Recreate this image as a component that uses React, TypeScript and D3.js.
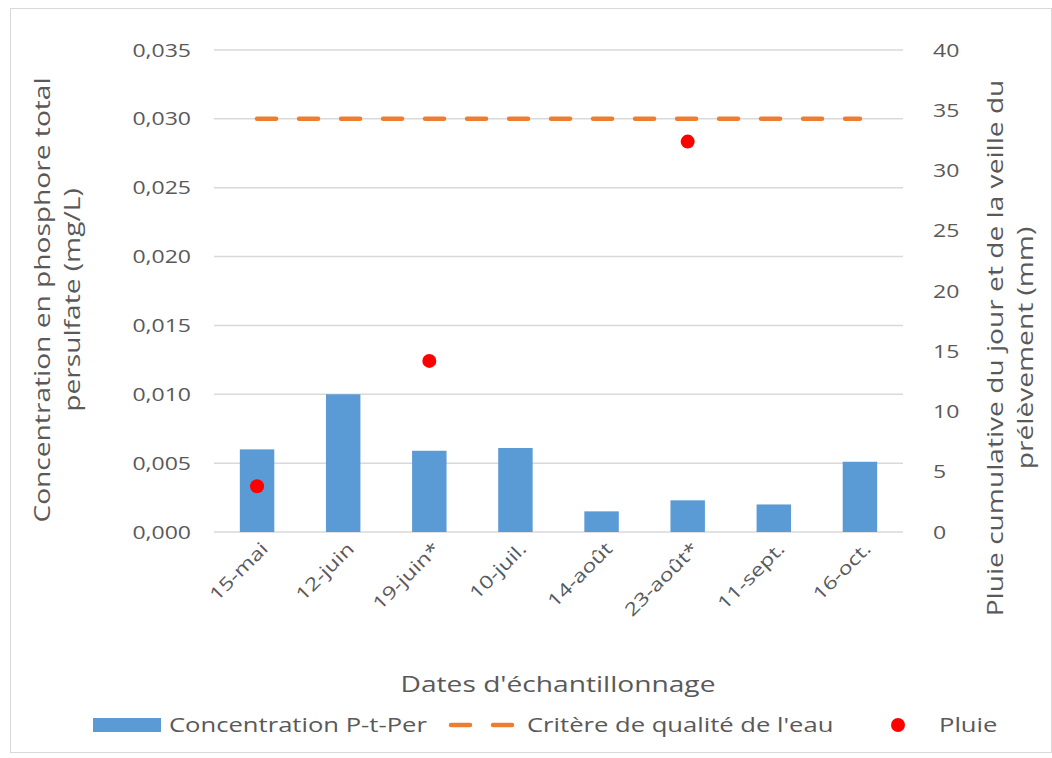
import { useEffect, useRef } from "react";
import * as d3 from "d3";

// chart data
const dates = ["15-mai", "12-juin", "19-juin*", "10-juil.", "14-août", "23-août*", "11-sept.", "16-oct."];
const concentration = [0.006, 0.01, 0.0059, 0.0061, 0.0015, 0.0023, 0.002, 0.0051];
const critere = [0.03, 0.03, 0.03, 0.03, 0.03, 0.03, 0.03, 0.03];
const pluie: (number | null)[] = [3.8, null, 14.2, null, null, 32.4, null, null];
const leftTicks = [0, 0.005, 0.01, 0.015, 0.02, 0.025, 0.03, 0.035];
const rightTicks = [0, 5, 10, 15, 20, 25, 30, 35, 40];

const W = 1052;
const H = 758;
const FONT = "'Open Sans', 'Noto Sans', sans-serif";
const TXT = "#595959";
const SX = 1.28; // horizontal stretch, reference font is a wide geometric face

export default function App() {
  const ref = useRef<SVGSVGElement>(null);

  useEffect(() => {
    const svg = d3.select(ref.current);
    svg.selectAll("*").remove();

    const left = 214, right = 903, top = 50, bottom = 532;

    // outer frame
    svg.append("rect")
      .attr("x", 10.5).attr("y", 8.5)
      .attr("width", W - 11).attr("height", 744)
      .attr("fill", "#fff").attr("stroke", "#d9d9d9");

    const x = d3.scaleBand().domain(dates).range([left, right]).paddingInner(0.6).paddingOuter(0.3);
    const yL = d3.scaleLinear().domain([0, 0.035]).range([bottom, top]);
    const yR = d3.scaleLinear().domain([0, 40]).range([bottom, top]);
    const cx = (d: string) => (x(d) ?? 0) + x.bandwidth() / 2;

    // small helper: text placed at (tx,ty), rotated, stretched along its baseline
    const label = (g: any, tx: number, ty: number, rot: number, anchor: string, size: number, s: string) =>
      g.append("text")
        .attr("transform", `translate(${tx},${ty}) rotate(${rot}) scale(${SX},1)`)
        .attr("text-anchor", anchor)
        .attr("font-family", FONT).attr("font-size", size).attr("fill", TXT)
        .text(s);

    // gridlines
    svg.append("g").selectAll("line").data(leftTicks).join("line")
      .attr("x1", left).attr("x2", right)
      .attr("y1", d => yL(d)).attr("y2", d => yL(d))
      .attr("stroke", "#d9d9d9").attr("stroke-width", 1.5);

    // tick labels
    const gl = svg.append("g");
    leftTicks.forEach(t => label(gl, 191, yL(t) + 6.5, 0, "end", 18, d3.format(".3f")(t).replace(".", ",")));
    const gr = svg.append("g");
    rightTicks.forEach(t => label(gr, 933, yR(t) + 6.5, 0, "start", 18, String(t)));

    // bars
    svg.append("g").selectAll("rect").data(concentration).join("rect")
      .attr("x", (_, i) => x(dates[i]) ?? 0)
      .attr("y", d => yL(d))
      .attr("width", x.bandwidth())
      .attr("height", d => bottom - yL(d))
      .attr("fill", "#5b9bd5");

    // criterion line
    const line = d3.line<number>()
      .x((_, i) => cx(dates[i]))
      .y(d => yL(d));
    svg.append("path")
      .datum(critere)
      .attr("d", line)
      .attr("fill", "none")
      .attr("stroke", "#ed7d31")
      .attr("stroke-width", 4.5)
      .attr("stroke-linecap", "round")
      .attr("stroke-dasharray", "19 23");

    // rain points
    svg.append("g").selectAll("circle")
      .data(pluie.map((v, i) => ({ v, d: dates[i] })).filter(p => p.v != null))
      .join("circle")
      .attr("cx", p => cx(p.d))
      .attr("cy", p => yR(p.v as number))
      .attr("r", 7)
      .attr("fill", "#ff0000");

    // x labels, rotated
    const gx = svg.append("g");
    dates.forEach(d => label(gx, cx(d) + 12, 550, -45, "end", 18, d));

    // axis titles
    label(svg, 558, 692, 0, "middle", 22, "Dates d'échantillonnage");

    label(svg, 50, 300, -90, "middle", 22, "Concentration en phosphore total");
    label(svg, 80, 300, -90, "middle", 22, "persulfate (mg/L)");

    label(svg, 1003, 348, -90, "middle", 22, "Pluie cumulative du jour et de la veille du");
    label(svg, 1033, 348, -90, "middle", 22, "prélèvement (mm)");

    // legend
    const ly = 725;
    const lg = svg.append("g");
    lg.append("rect").attr("x", 93).attr("y", ly - 7).attr("width", 68).attr("height", 14).attr("fill", "#5b9bd5");
    label(lg, 169, ly + 7, 0, "start", 20, "Concentration P-t-Per");
    lg.append("line").attr("x1", 451).attr("x2", 512).attr("y1", ly).attr("y2", ly)
      .attr("stroke", "#ed7d31").attr("stroke-width", 4.5)
      .attr("stroke-linecap", "round").attr("stroke-dasharray", "19 23");
    label(lg, 527, ly + 7, 0, "start", 20, "Critère de qualité de l'eau");
    lg.append("circle").attr("cx", 898).attr("cy", ly).attr("r", 7).attr("fill", "#ff0000");
    label(lg, 939, ly + 7, 0, "start", 20, "Pluie");
  }, []);

  return (
    <svg ref={ref} width={W} height={H}
      style={{ position: "absolute", left: 0, top: 0, background: "#fff" }} />
  );
}
